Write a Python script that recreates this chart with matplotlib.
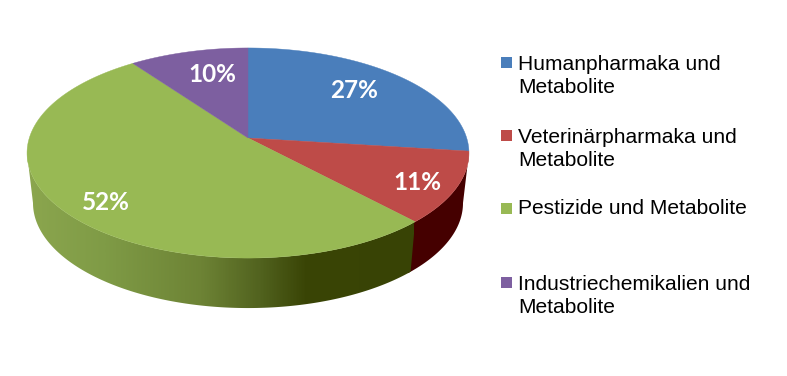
import matplotlib
matplotlib.use("Agg")
import matplotlib.pyplot as plt
import numpy as np
from matplotlib.colors import LinearSegmentedColormap
from matplotlib.patches import Polygon, Rectangle

# DATA

categories = ["Humanpharmaka und\nMetabolite", "Veterinärpharmaka und\nMetabolite",
              "Pestizide und Metabolite", "Industriechemikalien und\nMetabolite"]
values = [27, 11, 52, 10]
labels = ["27%", "11%", "52%", "10%"]

# STYLE

colors = ["#4a7ebb", "#be4b48", "#98b954", "#7d5fa0"]
green_side = [(0.0, "#8ba64e"), (0.2, "#7f9b46"), (0.45, "#6d8335"), (0.6, "#52631f"),
              (0.72, "#3a4506"), (1.0, "#384305")]
red_side = "#450000"
label_pos = [(354, 90), (417, 182), (106, 202), (212, 75)]
legend_y = [75, 148, 208, 295]

# pie geometry, in picture pixels
cx = 248
top_y = 138
depth = 50
a = 218.7
b = 102.9
k = 1 / 7


def rim(angle, xs=1.0, y0=top_y):
    # angle in degrees clockwise from 12 o'clock, with a little perspective
    t = np.radians(angle)
    u = np.sin(t)
    v = np.cos(t)
    w = 1 + k * v
    return np.column_stack([cx + xs * a * u / w, y0 - b * v / w])


fig = plt.figure(figsize=(7.87, 3.76), dpi=100)
ax = fig.add_axes([0, 0, 1, 1])
ax.set_xlim(0, 787)
ax.set_ylim(376, 0)
ax.axis("off")

edges = np.concatenate([[0], np.cumsum(values)]) * 360 / sum(values)

# angles where the outline turns from top face to side wall
turn = np.degrees(np.arcsin(k))
right_turn = 90 + turn
left_turn = 270 - turn


def side(start, end):
    ang = np.linspace(start, end, 150)
    return np.vstack([rim(ang), rim(ang[::-1], 0.973, top_y + depth)])


# SIDE WALLS

# red runs a bit under the green so no white seam shows
ax.fill(*side(right_turn, edges[2] + 1).T, color=red_side, lw=0, zorder=1)

green_poly = Polygon(side(edges[2], left_turn), closed=True, fc="none", ec="none")
ax.add_patch(green_poly)
cmap = LinearSegmentedColormap.from_list("green_side", green_side)
im = ax.imshow(np.linspace(0, 1, 400).reshape(1, -1), cmap=cmap, aspect="auto",
               extent=[27, 414, 376, 0], zorder=1.5)
im.set_clip_path(green_poly)
ax.set_xlim(0, 787)
ax.set_ylim(376, 0)

# TOP FACE

for i in range(len(values)):
    ang = np.linspace(edges[i], edges[i + 1], 150)
    pts = np.vstack([[cx, top_y], rim(ang)])
    ax.fill(pts[:, 0], pts[:, 1], color=colors[i], lw=0.3, zorder=2)

for txt, (x, y) in zip(labels, label_pos):
    ax.text(x, y, txt, color="white", fontsize=17.5, fontweight="bold", family="Lato",
            ha="center", va="center", zorder=3)

# LEGEND

for name, c, y in zip(categories, colors, legend_y):
    n = name.count("\n")
    first = y - 13 * n
    ax.add_patch(Rectangle((501, first - 5.5), 11, 11, fc=c, ec="none"))
    ax.text(518, y + 1, name, fontsize=15.1, family="Liberation Sans", color="black",
            ha="left", va="center", linespacing=1.33)

fig.savefig("out.png", dpi=100)
